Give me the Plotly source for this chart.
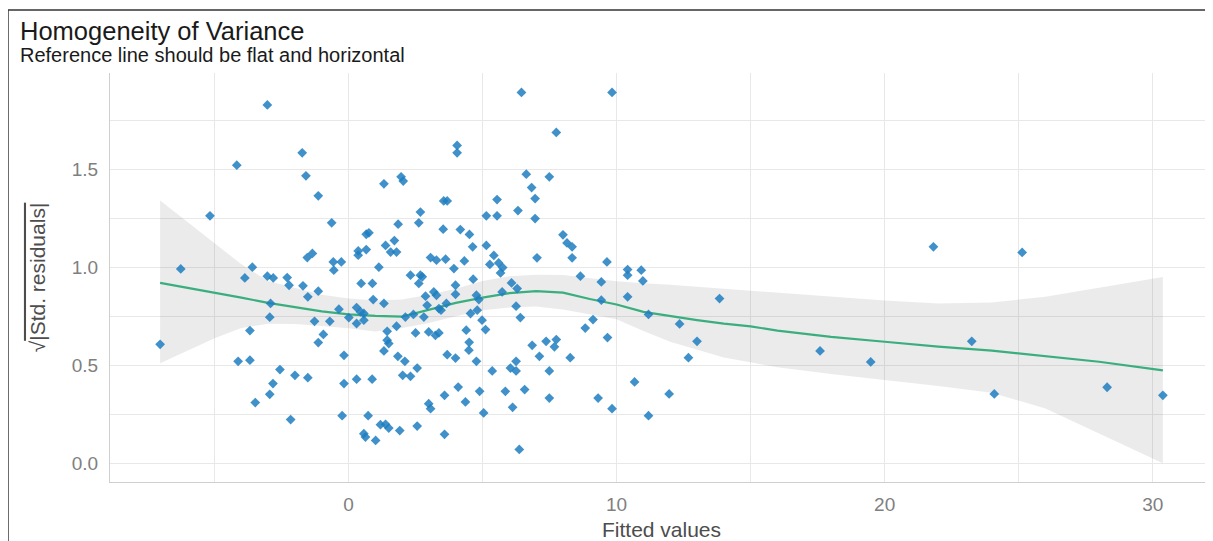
import plotly.graph_objects as go

# ---- data ----
fitted = [
    -3.03, -1.73, -4.17, -1.59, -1.13, -5.17, -0.63, 0.66, 0.76, -1.54,
    -1.35, 0.36, 0.36, 0.66, -6.26, -3.59, -0.57, -0.27, -0.55, 1.32,
    1.13,
    -3.87, -3.03, -2.81, -2.29, -2.22, -1.70, -1.13, -1.52, 0.47, 0.89,
    0.92, -2.91, -0.36, 0.30, 0.45, 0.57, -2.94, -1.27, -0.70, 0.01,
    0.30, 0.57, -3.68, -0.94, -1.13, -7.03, -0.17, -4.12, -3.68, -2.56,
    -2.00, -1.52, -2.82, -0.17, 0.30, 0.88, -2.94, -3.48, -2.16, -0.24,
    0.73, 0.57, 0.63, 1.01,
    6.45, 9.83, 7.75, 4.05, 4.05, 1.96, 2.04, 6.63, 7.49, 6.83,
    6.96, 3.55, 3.68, 5.54, 2.68, 6.32, 5.14, 5.54, 6.96, 2.62,
    1.85, 3.53, 4.17, 4.51, 1.71, 1.38, 1.57, 1.79, 4.63, 5.14,
    8.00, 8.15, 8.34, 5.42, 7.03, 8.34, 9.64, 3.06, 3.28, 3.62,
    4.32, 3.93, 5.27, 5.60, 5.75, 5.67, 2.31, 2.68, 2.75, 8.65,
    9.43,
    2.62, 3.99, 4.65, 6.08, 6.29, 1.32, 2.87, 3.18, 3.28, 3.99,
    4.77, 2.93, 3.37, 3.45, 3.65, 4.55, 4.80, 4.98, 5.11, 4.39,
    6.25, 6.41, 9.43, 9.12, 8.83, 9.66, 1.44, 1.79, 2.50, 2.99,
    3.24, 3.37, 4.50, 4.49, 4.77, 6.85, 7.37, 7.75, 7.68, 7.12,
    8.27, 6.25, 6.04, 6.25, 5.36, 7.49, 1.44, 1.50, 1.32, 1.84,
    2.10, 2.56, 2.02, 2.31, 3.68, 3.99, 4.09, 3.58, 2.99, 3.06,
    4.36, 4.89, 5.85, 6.57, 6.12, 5.04, 7.49, 9.31, 9.83, 1.19,
    1.38, 1.50, 1.91, 2.56, 3.58, 6.37,
    2.12, 2.42, 2.81, 5.73, 4.86,
    10.41, 10.41, 10.92, 10.98, 10.41, 11.19, 13.84, 12.35, 13.00, 12.68,
    17.59, 19.48, 10.67, 11.96, 11.19,
    21.82, 25.13, 23.25, 24.09, 28.30, 30.38,
]
sqrt_abs_std_resid = [
    1.827, 1.583, 1.520, 1.466, 1.364, 1.262, 1.226, 1.168, 1.175, 1.049,
    1.070, 1.083, 1.061, 1.090, 0.991, 1.000, 1.027, 1.027, 0.985, 1.425,
    1.000,
    0.945, 0.954, 0.945, 0.947, 0.908, 0.905, 0.878, 0.849, 0.917, 0.917,
    0.835, 0.815, 0.786, 0.794, 0.772, 0.764, 0.745, 0.724, 0.724, 0.743,
    0.713, 0.730, 0.677, 0.657, 0.616, 0.607, 0.551, 0.520, 0.526, 0.478,
    0.449, 0.437, 0.407, 0.407, 0.429, 0.429, 0.352, 0.310, 0.223, 0.243,
    0.243, 0.151, 0.134, 0.117,
    1.891, 1.891, 1.687, 1.621, 1.583, 1.461, 1.439, 1.474, 1.461, 1.406,
    1.350, 1.338, 1.338, 1.345, 1.281, 1.289, 1.262, 1.262, 1.248, 1.226,
    1.219, 1.194, 1.192, 1.167, 1.136, 1.111, 1.077, 1.077, 1.104, 1.111,
    1.165, 1.124, 1.104, 1.060, 1.048, 1.048, 1.027, 1.049, 1.036, 1.041,
    1.032, 0.993, 1.014, 1.022, 0.998, 0.971, 0.959, 0.959, 0.951, 0.954,
    0.925,
    0.917, 0.908, 0.939, 0.920, 0.891, 0.815, 0.852, 0.874, 0.857, 0.862,
    0.857, 0.806, 0.789, 0.781, 0.815, 0.764, 0.781, 0.730, 0.682, 0.679,
    0.801, 0.743, 0.832, 0.733, 0.690, 0.641, 0.673, 0.699, 0.665, 0.670,
    0.653, 0.665, 0.617, 0.577, 0.520, 0.602, 0.622, 0.631, 0.594, 0.546,
    0.539, 0.520, 0.486, 0.471, 0.471, 0.471, 0.628, 0.611, 0.573, 0.546,
    0.520, 0.486, 0.449, 0.444, 0.554, 0.537, 0.389, 0.347, 0.304, 0.279,
    0.313, 0.367, 0.367, 0.376, 0.286, 0.257, 0.333, 0.333, 0.279, 0.197,
    0.199, 0.180, 0.167, 0.190, 0.148, 0.071,
    0.746, 0.759, 0.746, 0.874, 0.835,
    0.988, 0.959, 0.985, 0.930, 0.849, 0.759, 0.840, 0.711, 0.622, 0.539,
    0.573, 0.517, 0.415, 0.354, 0.243,
    1.104, 1.075, 0.622, 0.354, 0.388, 0.347,
]

smooth_x = [-7.03, -6, -5, -4, -3, -2, -1, 0, 1, 2, 3, 4, 5, 6, 7, 8, 9, 10,
            11, 12, 13, 14, 15, 16, 18, 20, 22, 24, 26, 28, 30.38]
smooth_y = [0.920, 0.895, 0.872, 0.845, 0.818, 0.795, 0.775, 0.760, 0.752,
            0.748, 0.785, 0.818, 0.845, 0.868, 0.878, 0.870, 0.838, 0.810,
            0.772, 0.750, 0.730, 0.712, 0.698, 0.677, 0.645, 0.620, 0.595,
            0.575, 0.548, 0.518, 0.474]

ribbon_x = [-7.03, -6, -5, -4, -3, -2, -1, 0, 1, 2, 3, 4, 5, 6, 7, 8, 9, 10,
            11, 12, 14, 16, 18, 20, 22, 24, 26, 28, 30.38]
ribbon_upper = [1.340, 1.231, 1.122, 1.015, 0.930, 0.895, 0.860, 0.840, 0.830,
                0.835, 0.860, 0.890, 0.930, 0.954, 0.962, 0.960, 0.945, 0.928,
                0.918, 0.910, 0.890, 0.870, 0.850, 0.830, 0.815, 0.820, 0.850,
                0.895, 0.950]
ribbon_lower = [0.510, 0.575, 0.638, 0.690, 0.712, 0.710, 0.700, 0.689, 0.672,
                0.690, 0.715, 0.750, 0.780, 0.795, 0.800, 0.785, 0.760, 0.735,
                0.675, 0.620, 0.540, 0.490, 0.455, 0.425, 0.395, 0.360, 0.280,
                0.150, 0.000]

x_ticks = [0, 10, 20, 30]
y_ticks = [0.0, 0.5, 1.0, 1.5]

FONT = "Liberation Sans, Arial, sans-serif"

fig = go.Figure()

fig.add_trace(go.Scatter(
    x=ribbon_x + ribbon_x[::-1],
    y=ribbon_upper + ribbon_lower[::-1],
    fill="toself", fillcolor="rgba(60,60,60,0.10)",
    line=dict(width=0), mode="lines", hoverinfo="skip", showlegend=False,
))
fig.add_trace(go.Scatter(
    x=smooth_x, y=smooth_y, mode="lines",
    line=dict(color="#3aae7e", width=2.2), showlegend=False,
))
fig.add_trace(go.Scatter(
    x=fitted, y=sqrt_abs_std_resid, mode="markers",
    marker=dict(symbol="diamond", size=7.5, color="rgba(30,126,192,0.85)",
                line=dict(width=0)),
    showlegend=False,
))

grid_col = "#e8e8e8"
fig.update_xaxes(
    range=[-8.9, 32.25], tickvals=x_ticks, ticktext=[str(v) for v in x_ticks],
    showgrid=True, gridcolor=grid_col, gridwidth=1.2,
    minor=dict(tickvals=[-5, 5, 15, 25], showgrid=True, gridcolor=grid_col, gridwidth=1.2),
    zeroline=False, showline=True, linecolor="#cfcfcf", linewidth=1,
    ticks="", ticklabelstandoff=5,
    tickfont=dict(family=FONT, size=19, color="#7f7f7f"),
    title=dict(text="Fitted values", font=dict(family=FONT, size=21, color="#4d4d4d"),
               standoff=9),
)
fig.update_yaxes(
    range=[-0.095, 1.99], tickvals=y_ticks, ticktext=["%.1f" % v for v in y_ticks],
    showgrid=True, gridcolor=grid_col, gridwidth=1.2,
    minor=dict(tickvals=[0.25, 0.75, 1.25, 1.75], showgrid=True, gridcolor=grid_col, gridwidth=1.2),
    zeroline=False, showline=True, linecolor="#cfcfcf", linewidth=1,
    ticks="", ticklabelstandoff=7,
    tickfont=dict(family=FONT, size=19, color="#7f7f7f"),
    title=dict(text="√<span style='text-decoration:overline'>|Std. residuals|</span>",
               font=dict(family=FONT, size=21, color="#4d4d4d"), standoff=20),
)

fig.add_annotation(text="Homogeneity of Variance", xref="paper", yref="paper",
                   x=-0.0835, y=1.063, xanchor="left", yanchor="bottom", showarrow=False,
                   font=dict(family=FONT, size=25.5, color="#1a1a1a"))
fig.add_annotation(text="Reference line should be flat and horizontal", xref="paper", yref="paper",
                   x=-0.0835, y=1.012, xanchor="left", yanchor="bottom", showarrow=False,
                   font=dict(family=FONT, size=20, color="#1a1a1a"))

# figure frame (left and top edges)
fig.add_shape(type="line", xref="paper", yref="paper", x0=-0.0925, x1=-0.0925, y0=-0.3, y1=1.154,
              line=dict(color="#333333", width=1.5))
fig.add_shape(type="line", xref="paper", yref="paper", x0=-0.0925, x1=1.01, y0=1.154, y1=1.154,
              line=dict(color="#333333", width=1.5))

fig.update_layout(
    width=1205, height=533,
    margin=dict(l=102, r=0, t=65, b=59),
    paper_bgcolor="white", plot_bgcolor="white",
    font=dict(family=FONT),
    hovermode=False,
)

fig.write_html(
    "out.html",
    config={"displayModeBar": False},
    post_script="document.documentElement.style.overflow='hidden';document.body.style.overflow='hidden';",
)
